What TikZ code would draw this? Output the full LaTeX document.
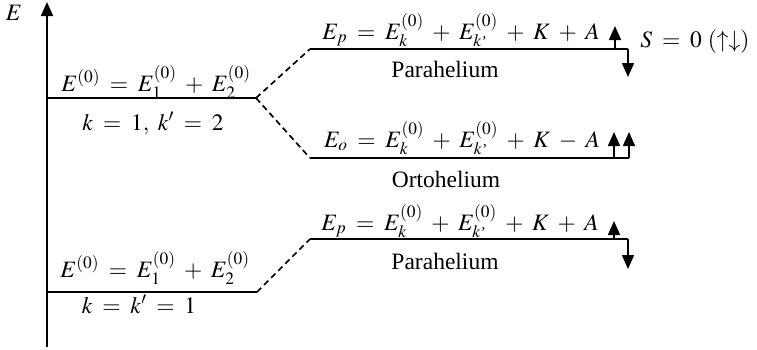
\documentclass[tikz,border=0pt]{standalone}
\usepackage{mathptmx}
\usepackage[no-math]{fontspec}
\setmainfont{Liberation Serif}
\usetikzlibrary{arrows.meta}
\newcommand{\kpr}{k\mbox{\fontsize{15}{15}\selectfont\kern0.5pt'}}
\begin{document}
\begin{tikzpicture}[x=1pt,y=-1pt,
  font=\fontsize{23.5}{28}\selectfont,
  lvl/.style={line width=1.7pt},
  dsh/.style={line width=1.7pt, dash pattern=on 6pt off 4pt},
  arr/.style={line width=1.7pt,-{Triangle[length=14pt,width=12pt]}},
  lab/.style={anchor=base, inner sep=0pt,
    execute at begin node={\thickmuskip=7.5mu\medmuskip=6.5mu}}]
\useasboundingbox (0,0) rectangle (757,349);
% axis
\coordinate (ax0) at (47,347);
\coordinate (ax1) at (47,2);
\draw[arr] (ax0) -- (ax1);
\node[lab] (E) at (14,20) {$E$};
% level coordinates
\coordinate (a1) at (47,98);  \coordinate (a2) at (256,98);
\coordinate (p1) at (310,49); \coordinate (p2) at (628,49);
\coordinate (o1) at (310,158);\coordinate (o2) at (629,158);
\coordinate (b1) at (47,292); \coordinate (b2) at (257,292);
\coordinate (q1) at (310,239);\coordinate (q2) at (628,239);
% levels
\draw[lvl] (a1) -- (a2);
\draw[lvl] (p1) -- (p2);
\draw[lvl] (o1) -- (o2);
\draw[lvl] (b1) -- (b2);
\draw[lvl] (q1) -- (q2);
% dashed connectors
\draw[dsh] (a2) -- (p1);
\draw[dsh] (a2) -- (o1);
\draw[dsh] (b2) -- (q1);
% spin arrows
\coordinate (pu) at (615,49);  \coordinate (put) at (615,26);
\coordinate (pdt) at (628,77);
\draw[arr] (pu) -- (put);
\draw[arr] (p2) -- (pdt);
\coordinate (ou) at (614,158); \coordinate (out) at (614,132);
\coordinate (o2t) at (629,132);
\draw[arr] (ou) -- (out);
\draw[arr] (o2) -- (o2t);
\coordinate (qu) at (614,239); \coordinate (qut) at (614,221);
\coordinate (qdt) at (628,269);
\draw[arr] (qu) -- (qut);
\draw[arr] (q2) -- (qdt);
% labels
\node[lab] (l1) at (156,91) {$E^{(0)} = E_1^{(0)} + E_2^{(0)}$};
\node[lab] (k1) at (153,130) {$k = 1,\ k' = 2$};
\node[lab] (ep1) at (461,39) {$E_p = E_k^{(0)} + E_{\kpr}^{(0)} + K + A$};
\node[lab] (ph1) at (445,77) {Parahelium};
\node[lab] (s0) at (695,47) {$S = 0\ (\uparrow\downarrow)$};
\node[lab] (eo) at (462,147) {$E_o = E_k^{(0)} + E_{\kpr}^{(0)} + K - A$};
\node[lab] (oh) at (446,187) {Ortohelium};
\node[lab] (l2) at (155,277) {$E^{(0)} = E_1^{(0)} + E_2^{(0)}$};
\node[lab] (k2) at (139,313) {$k = k' = 1$};
\node[lab] (ep2) at (460,230) {$E_p = E_k^{(0)} + E_{\kpr}^{(0)} + K + A$};
\node[lab] (ph2) at (445,269) {Parahelium};
\end{tikzpicture}
\end{document}
